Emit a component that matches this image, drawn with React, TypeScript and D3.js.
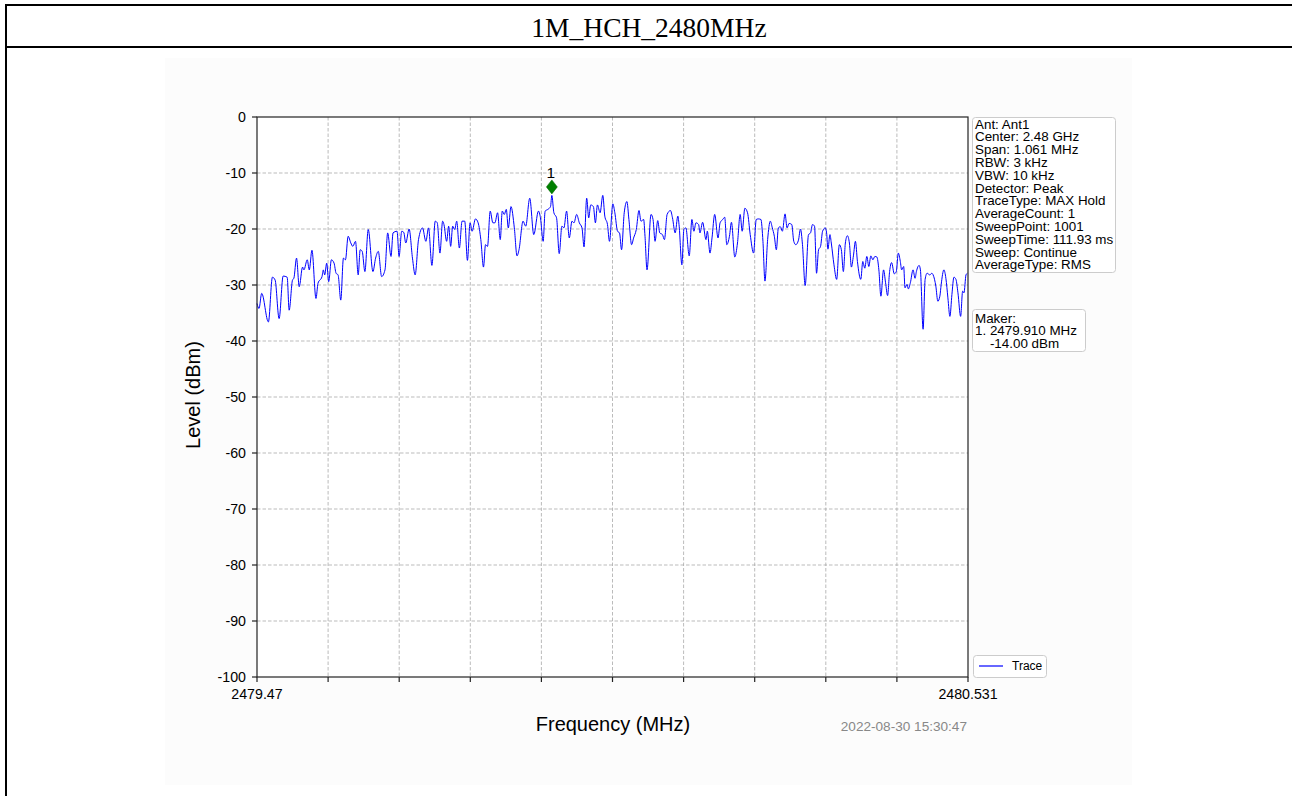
import React from "react";
import * as d3 from "d3";

const TITLE = "1M_HCH_2480MHz";
const X_MIN = 2479.47;
const X_MAX = 2480.531;
const Y_TICKS = [0, -10, -20, -30, -40, -50, -60, -70, -80, -90, -100];
const X_TICK_COUNT = 10;
const X_TICK_LABELS = ["2479.47", "2480.531"];

const freqMHz = [
  2479.470, 2479.473, 2479.477, 2479.487, 2479.493, 2479.497, 2479.503, 2479.509, 2479.515, 2479.518,
  2479.523, 2479.525, 2479.529, 2479.533, 2479.538, 2479.540, 2479.545, 2479.548, 2479.552, 2479.558,
  2479.561, 2479.567, 2479.569, 2479.571, 2479.574, 2479.577, 2479.581, 2479.585, 2479.588, 2479.591,
  2479.595, 2479.599, 2479.602, 2479.606, 2479.610, 2479.613, 2479.617, 2479.621, 2479.624, 2479.627,
  2479.631, 2479.636, 2479.643, 2479.647, 2479.651, 2479.656, 2479.661, 2479.665, 2479.670, 2479.673,
  2479.679, 2479.682, 2479.686, 2479.689, 2479.692, 2479.697, 2479.702, 2479.706, 2479.711, 2479.717,
  2479.722, 2479.726,
  2479.731, 2479.736, 2479.739, 2479.743, 2479.747, 2479.749, 2479.753, 2479.756, 2479.759, 2479.762,
  2479.765, 2479.768, 2479.772, 2479.776, 2479.780, 2479.784, 2479.788, 2479.791, 2479.796, 2479.800,
  2479.804, 2479.808, 2479.811, 2479.814, 2479.818, 2479.822, 2479.825, 2479.829, 2479.833, 2479.836,
  2479.839, 2479.842, 2479.845, 2479.849, 2479.854, 2479.858, 2479.861, 2479.867, 2479.871, 2479.877,
  2479.883, 2479.890, 2479.893, 2479.897, 2479.900, 2479.904, 2479.908, 2479.910, 2479.913, 2479.917,
  2479.921, 2479.925, 2479.928, 2479.932, 2479.936, 2479.940, 2479.943, 2479.947, 2479.951, 2479.955,
  2479.958, 2479.962, 2479.965, 2479.968, 2479.972, 2479.975, 2479.978, 2479.982,
  2479.986, 2479.989, 2479.993, 2479.996, 2480.001, 2480.004, 2480.008, 2480.011, 2480.014, 2480.018,
  2480.022, 2480.025, 2480.029, 2480.032, 2480.036, 2480.040, 2480.043, 2480.047, 2480.049, 2480.052,
  2480.058, 2480.061, 2480.064, 2480.068, 2480.071, 2480.075, 2480.078, 2480.082, 2480.087, 2480.090,
  2480.094, 2480.098, 2480.100, 2480.104, 2480.107, 2480.110, 2480.115, 2480.119, 2480.122, 2480.125,
  2480.129, 2480.131, 2480.135, 2480.140, 2480.142, 2480.146, 2480.149, 2480.153, 2480.158, 2480.161,
  2480.165, 2480.168, 2480.171, 2480.175, 2480.178, 2480.183, 2480.187, 2480.191, 2480.194, 2480.198,
  2480.202, 2480.206, 2480.211, 2480.215, 2480.218, 2480.222, 2480.225, 2480.228, 2480.232, 2480.236,
  2480.239, 2480.242, 2480.245, 2480.248,
  2480.251, 2480.254, 2480.258, 2480.261, 2480.264, 2480.268, 2480.271, 2480.274, 2480.278, 2480.281,
  2480.284, 2480.288, 2480.293, 2480.296, 2480.299, 2480.302, 2480.305, 2480.308, 2480.311, 2480.314,
  2480.318, 2480.320, 2480.322, 2480.325, 2480.327, 2480.331, 2480.335, 2480.339, 2480.342, 2480.345,
  2480.348, 2480.351, 2480.354, 2480.357, 2480.360, 2480.363, 2480.366, 2480.371, 2480.374, 2480.377,
  2480.380, 2480.383, 2480.386, 2480.389, 2480.392, 2480.395, 2480.398, 2480.401, 2480.405, 2480.408,
  2480.411, 2480.414, 2480.417, 2480.421, 2480.424, 2480.427, 2480.430, 2480.432, 2480.435, 2480.437,
  2480.440, 2480.442, 2480.445, 2480.449, 2480.452, 2480.454, 2480.458, 2480.460, 2480.464, 2480.467,
  2480.470, 2480.474, 2480.477, 2480.479, 2480.483, 2480.486, 2480.489, 2480.491, 2480.495, 2480.498,
  2480.501, 2480.504, 2480.507, 2480.510, 2480.513, 2480.516, 2480.520, 2480.523, 2480.525, 2480.528,
  2480.530,
];

const levelDbm = [
  -33.3, -34.2, -31.5, -36.6, -28.6, -29.1, -36.0, -28.4, -28.6, -34.5,
  -29.1, -28.8, -25.2, -30.3, -26.8, -27.3, -25.5, -27.3, -23.8, -32.4,
  -29.7, -28.5, -27.3, -28.2, -26.1, -29.4, -25.5, -26.1, -27.9, -28.2,
  -32.7, -25.2, -25.5, -21.3, -22.5, -23.1, -22.2, -28.2, -23.7, -24.0,
  -27.6, -20.1, -27.6, -25.2, -24.0, -28.5, -27.3, -20.7, -24.9, -20.7,
  -20.4, -24.9, -20.4, -20.6, -22.5, -20.0, -25.2, -28.2, -21.9, -19.8,
  -22.2, -19.8,
  -26.5, -18.6, -18.9, -24.3, -18.6, -19.2, -22.2, -19.5, -23.1, -19.5,
  -20.1, -18.6, -23.4, -18.6, -18.6, -25.6, -18.9, -20.4, -18.2, -18.9,
  -21.9, -26.8, -22.8, -23.1, -16.8, -18.9, -18.9, -17.1, -21.9, -16.8,
  -17.4, -16.5, -19.8, -16.0, -19.8, -24.8, -23.7, -18.6, -19.5, -14.5,
  -21.0, -16.8, -18.0, -22.2, -16.8, -16.5, -16.0, -14.0, -17.1, -18.0,
  -24.4, -19.5, -19.8, -16.8, -21.6, -18.6, -18.9, -17.4, -18.9, -19.8,
  -23.2, -14.5, -18.0, -15.7, -16.0, -18.9, -15.7, -17.1,
  -14.0, -17.7, -19.2, -22.2, -15.5, -17.1, -20.4, -20.7, -23.7, -17.1,
  -15.1, -18.3, -22.8, -21.6, -20.1, -16.7, -18.6, -18.3, -21.3, -27.3,
  -17.4, -18.3, -22.2, -18.5, -20.7, -21.0, -21.9, -17.4, -16.7, -18.0,
  -20.7, -17.7, -19.5, -26.4, -20.1, -19.8, -24.8, -18.3, -20.4, -18.9,
  -19.2, -20.7, -18.8, -21.9, -20.4, -24.3, -21.6, -17.4, -21.6, -18.9,
  -18.3, -17.9, -22.8, -21.3, -18.8, -25.0, -22.5, -17.4, -20.4, -16.3,
  -17.1, -21.0, -24.3, -18.3, -18.2, -18.3, -22.2, -29.3, -21.9, -18.6,
  -19.8, -21.3, -23.7, -19.8,
  -19.6, -20.4, -17.3, -19.8, -19.0, -19.2, -22.2, -22.8, -22.0, -20.0,
  -22.8, -30.1, -21.0, -20.7, -19.2, -19.5, -27.9, -23.7, -23.1, -20.4,
  -19.8, -20.7, -23.6, -21.0, -22.5, -26.4, -29.0, -22.8, -23.7, -27.6,
  -22.5, -21.2, -22.5, -26.8, -24.8, -22.2, -25.8, -29.0, -25.8, -27.0,
  -24.9, -26.7, -24.8, -25.5, -24.9, -25.0, -27.3, -32.0, -27.3, -29.6,
  -31.9, -27.6, -26.0, -28.0, -27.6, -24.3, -25.8, -27.3, -26.7, -30.5,
  -29.9, -30.7, -29.6, -27.3, -28.8, -27.6, -26.5, -27.3, -37.9, -29.0,
  -27.9, -28.2, -27.9, -28.2, -30.2, -32.9, -32.0, -29.9, -27.3, -28.8,
  -32.3, -35.6, -31.7, -28.6, -29.0, -31.4, -35.6, -31.1, -31.4, -28.2,
  -27.9,
];

const MARKER_FREQ = 2479.91;
const MARKER_LEVEL = -14.0;
const MARKER_LABEL = "1";

const infoLines = [
  "Ant: Ant1",
  "Center: 2.48 GHz",
  "Span: 1.061 MHz",
  "RBW: 3 kHz",
  "VBW: 10 kHz",
  "Detector: Peak",
  "TraceType: MAX Hold",
  "AverageCount: 1",
  "SweepPoint: 1001",
  "SweepTime: 111.93 ms",
  "Sweep: Continue",
  "AverageType: RMS",
];
const makerLines = ["Maker:", "1. 2479.910 MHz", "    -14.00 dBm"];
const LEGEND_LABEL = "Trace";
const X_LABEL = "Frequency (MHz)";
const Y_LABEL = "Level (dBm)";
const TIMESTAMP = "2022-08-30 15:30:47";

const W = 1292;
const H = 796;
const PL = 257, PR = 968, PT = 117, PB = 677;
const SANS = "'Liberation Sans', Arial, sans-serif";

export default function App() {
  const x = d3.scaleLinear().domain([X_MIN, X_MAX]).range([PL, PR]);
  const y = d3.scaleLinear().domain([-100, 0]).range([PB, PT]);
  const xTicks = d3.range(X_TICK_COUNT + 1).map((i) => X_MIN + ((X_MAX - X_MIN) * i) / X_TICK_COUNT);

  const pts = freqMHz.map((f, i) => [f, levelDbm[i]] as [number, number]);
  const line = d3
    .line<[number, number]>()
    .x((d) => x(d[0]))
    .y((d) => y(d[1]))
    .curve(d3.curveMonotoneX);

  const mx = x(MARKER_FREQ);
  const my = y(MARKER_LEVEL) - 8.5;

  return (
    <svg
      width={W}
      height={H}
      style={{ position: "absolute", left: 0, top: 0, display: "block", background: "#fff" }}
    >
      {/* page frame */}
      <line x1={6} y1={5} x2={W} y2={5} stroke="#000" strokeWidth={2} />
      <line x1={6} y1={47} x2={W} y2={47} stroke="#000" strokeWidth={2} />
      <line x1={6} y1={4} x2={6} y2={H} stroke="#000" strokeWidth={2} />
      <text
        x={649}
        y={37}
        textAnchor="middle"
        fontFamily="'Liberation Serif', 'Times New Roman', serif"
        fontSize={27.5}
        fill="#000"
      >
        {TITLE}
      </text>

      {/* figure background */}
      <rect x={165} y={58} width={967} height={727} fill="#fcfcfc" />
      <rect x={PL} y={PT} width={PR - PL} height={PB - PT} fill="#fff" />

      {/* grid */}
      {xTicks.slice(1, -1).map((t, i) => (
        <line key={"gx" + i} x1={x(t)} x2={x(t)} y1={PT} y2={PB} stroke="#aaa" strokeWidth={0.8} strokeDasharray="3.5,2" />
      ))}
      {Y_TICKS.slice(1, -1).map((t) => (
        <line key={"gy" + t} x1={PL} x2={PR} y1={y(t)} y2={y(t)} stroke="#aaa" strokeWidth={0.8} strokeDasharray="3.5,2" />
      ))}

      {/* trace */}
      <path d={line(pts) || ""} fill="none" stroke="#0000ff" strokeWidth={1} strokeLinejoin="round" />

      {/* marker */}
      <path
        d={`M${mx},${my - 7} L${mx + 5.5},${my} L${mx},${my + 7} L${mx - 5.5},${my} Z`}
        fill="#008000"
        stroke="#006400"
        strokeWidth={0.5}
      />
      <text x={mx - 1} y={my - 9} textAnchor="middle" fontFamily={SANS} fontSize={15.5} fill="#000">
        {MARKER_LABEL}
      </text>

      {/* spines */}
      <rect x={PL} y={PT} width={PR - PL} height={PB - PT} fill="none" stroke="#222" strokeWidth={1.2} />

      {/* y ticks */}
      {Y_TICKS.map((t) => (
        <g key={"yt" + t}>
          <line x1={PL - 5} x2={PL} y1={y(t)} y2={y(t)} stroke="#222" strokeWidth={1.2} />
          <text x={PL - 11} y={y(t) + 5} textAnchor="end" fontFamily={SANS} fontSize={14.2} fill="#000">
            {t}
          </text>
        </g>
      ))}

      {/* x ticks */}
      {xTicks.map((t, i) => (
        <line key={"xt" + i} x1={x(t)} x2={x(t)} y1={PB} y2={PB + 5} stroke="#222" strokeWidth={1.2} />
      ))}
      <text x={x(X_MIN)} y={PB + 22} textAnchor="middle" fontFamily={SANS} fontSize={14.2} fill="#000">
        {X_TICK_LABELS[0]}
      </text>
      <text x={x(X_MAX)} y={PB + 22} textAnchor="middle" fontFamily={SANS} fontSize={14.2} fill="#000">
        {X_TICK_LABELS[1]}
      </text>

      {/* axis labels */}
      <text x={613} y={731} textAnchor="middle" fontFamily={SANS} fontSize={20} fill="#000">
        {X_LABEL}
      </text>
      <text
        transform={`translate(200, ${(PT + PB) / 2 - 2}) rotate(-90)`}
        textAnchor="middle"
        fontFamily={SANS}
        fontSize={20}
        fill="#000"
      >
        {Y_LABEL}
      </text>
      <text x={PR - 1} y={731} textAnchor="end" fontFamily={SANS} fontSize={13.6} fill="#888">
        {TIMESTAMP}
      </text>

      {/* info box */}
      <rect x={972.5} y={117.5} width={143} height={155} rx={3} fill="#fff" stroke="#ccc" strokeWidth={1} />
      {infoLines.map((s, i) => (
        <text key={"il" + i} x={975} y={128.5 + i * 12.8} fontFamily={SANS} fontSize={13.4} fill="#000">
          {s}
        </text>
      ))}

      {/* maker box */}
      <rect x={972.5} y={309.5} width={113} height={42} rx={3} fill="#fff" stroke="#ccc" strokeWidth={1} />
      {makerLines.map((s, i) => (
        <text key={"ml" + i} x={975} y={322.5 + i * 12.8} fontFamily={SANS} fontSize={13.4} fill="#000" style={{ whiteSpace: "pre" }}>
          {s}
        </text>
      ))}

      {/* legend */}
      <rect x={973.5} y={655.5} width={73} height={22} rx={3} fill="#fff" stroke="#ccc" strokeWidth={1} />
      <line x1={979} x2={1003} y1={666} y2={666} stroke="#0000ff" strokeWidth={1.2} />
      <text x={1012} y={670} fontFamily={SANS} fontSize={12} fill="#000">
        {LEGEND_LABEL}
      </text>
    </svg>
  );
}
